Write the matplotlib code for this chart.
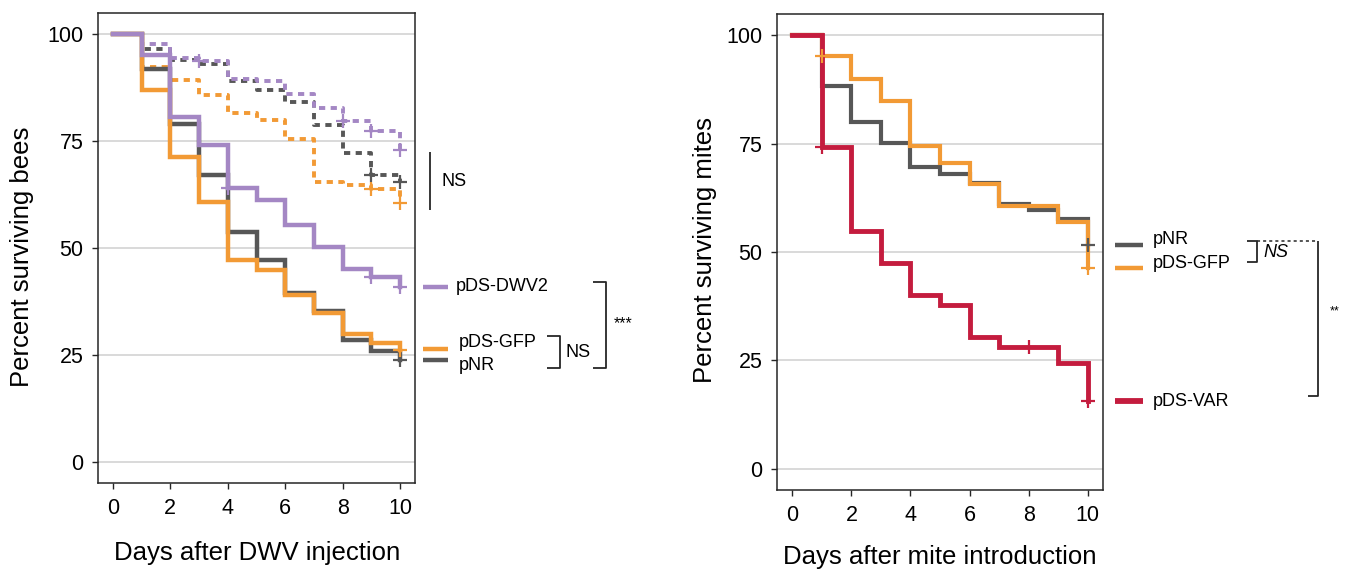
import numpy as np
import matplotlib.pyplot as plt

plt.rcParams['font.family'] = ['Liberation Sans', 'DejaVu Sans']

# ---- data ----
days = np.arange(0, 11)

# bees, DWV injection (solid = DWV injected, dashed = controls)
bee_dwv2 = [100, 95.1, 80.7, 74.1, 64.0, 61.2, 55.4, 50.3, 45.0, 43.3, 41.0]
bee_gfp = [100, 86.9, 71.3, 60.8, 47.2, 44.9, 39.0, 34.7, 29.8, 27.7, 26.2]
bee_nr = [100, 91.8, 78.9, 67.1, 53.8, 47.2, 39.4, 35.3, 28.5, 25.9, 23.8]
bee_dwv2_ctrl = [100, 97.6, 94.3, 93.8, 89.4, 88.9, 86.0, 82.6, 79.6, 77.3, 72.9]
bee_gfp_ctrl = [100, 92.4, 89.3, 85.8, 81.5, 79.9, 75.5, 65.5, 64.8, 63.8, 60.5]
bee_nr_ctrl = [100, 96.6, 94.0, 93.1, 89.0, 86.9, 84.0, 78.8, 72.2, 67.1, 65.5]

# censor marks (day indices)
cens_dwv2 = [4, 9, 10]
cens_gfp = [10]
cens_nr = [10]
cens_dwv2_ctrl = [3, 8, 9, 10]
cens_gfp_ctrl = [9, 10]
cens_nr_ctrl = [9, 10]

# mites
mite_nr = [100, 88.2, 80.0, 75.2, 69.6, 68.0, 65.9, 61.1, 59.8, 57.5, 51.7]
mite_gfp = [100, 95.1, 89.8, 84.8, 74.4, 70.6, 65.7, 60.5, 60.5, 56.9, 46.2]
mite_var = [100, 74.2, 54.8, 47.4, 40.1, 37.8, 30.3, 28.0, 28.0, 24.5, 15.6]
cens_mite_nr = [10]
cens_mite_gfp = [1, 10]
cens_mite_var = [1, 8, 10]

PURPLE = '#a487c4'
ORANGE = '#f29a35'
GREY = '#575757'
RED = '#c41c3e'
INK = '#262626'

W, H = 1351, 569
fig = plt.figure(figsize=(W / 100, H / 100), dpi=100)


def px_axes(l, t, r, b):
    return fig.add_axes([l / W, 1 - b / H, (r - l) / W, (b - t) / H])


def km(ax, y, cens, color, lw=3.2, dashed=False):
    ls = (0, (1.6, 1.4)) if dashed else '-'
    ax.step(days, y, where='post', color=color, lw=lw, linestyle=ls,
            solid_joinstyle='miter', zorder=3)
    y = np.asarray(y)
    ax.plot(days[cens], y[cens], '+', color=color, ms=10, mew=1.6,
            zorder=4, clip_on=False)


def style(ax):
    ax.set_xlim(-0.52, 10.52)
    ax.set_ylim(-4.9, 104.9)
    ax.set_xticks([0, 2, 4, 6, 8, 10])
    ax.set_yticks([0, 25, 50, 75, 100])
    ax.grid(axis='y', color='#cfcfcf', lw=1.1)
    ax.set_axisbelow(True)
    for s in ax.spines.values():
        s.set_color(INK)
        s.set_linewidth(1.1)
    ax.tick_params(direction='out', length=4.5, width=1.0, color=INK,
                   labelsize=15.5)
    ax.tick_params(axis='y', pad=6)
    ax.tick_params(axis='x', pad=6)


# ---- left panel: bees ----
ax1 = px_axes(98, 13, 415, 483)
style(ax1)
km(ax1, bee_nr_ctrl, cens_nr_ctrl, GREY, lw=2.8, dashed=True)
km(ax1, bee_gfp_ctrl, cens_gfp_ctrl, ORANGE, lw=2.8, dashed=True)
km(ax1, bee_dwv2_ctrl, cens_dwv2_ctrl, PURPLE, lw=2.8, dashed=True)
km(ax1, bee_nr, cens_nr, GREY)
km(ax1, bee_gfp, cens_gfp, ORANGE)
km(ax1, bee_dwv2, cens_dwv2, PURPLE)

fig.text(22 / W, 1 - 257 / H, 'Percent surviving bees', rotation=90,
         ha='center', va='center', fontsize=18.5)
fig.text(257 / W, 1 - 553 / H, 'Days after DWV injection',
         ha='center', va='center', fontsize=18.5)

# labels / significance, left
kw = dict(clip_on=False, solid_capstyle='butt')
for y, c in [(bee_dwv2[-1], PURPLE), (26.5, ORANGE), (23.9, GREY)]:
    ax1.plot([10.80, 11.67], [y, y], color=c, lw=3.2, **kw)
ax1.text(11.95, bee_dwv2[-1], 'pDS-DWV2', fontsize=13, va='center')
ax1.text(12.05, 27.9, 'pDS-GFP', fontsize=13, va='center')
ax1.text(12.05, 22.6, 'pNR', fontsize=13, va='center')
ax1.plot([11.05, 11.05], [72.5, 58.9], color=INK, lw=1.3, **kw)
ax1.text(11.45, 65.5, 'NS', fontsize=13, va='center')
ax1.plot([15.11, 15.57, 15.57, 15.11], [29.4, 29.4, 22.0, 22.0],
         color=INK, lw=1.3, **kw)
ax1.text(15.75, 25.6, 'NS', fontsize=13, va='center')
ax1.plot([16.73, 17.17, 17.17, 16.73], [42.1, 42.1, 22.0, 22.0],
         color=INK, lw=1.3, **kw)
ax1.text(17.45, 32.4, '***', fontsize=11.5, va='center')

# ---- right panel: mites ----
ax2 = px_axes(777, 14, 1103, 490)
style(ax2)
km(ax2, mite_nr, cens_mite_nr, GREY, lw=3.0)
km(ax2, mite_gfp, cens_mite_gfp, ORANGE, lw=3.0)
km(ax2, mite_var, cens_mite_var, RED, lw=3.5)

fig.text(705 / W, 1 - 250 / H, 'Percent surviving mites', rotation=90,
         ha='center', va='center', fontsize=18.5)
fig.text(940 / W, 1 - 557 / H, 'Days after mite introduction',
         ha='center', va='center', fontsize=18.5)

for y, c, lw in [(mite_nr[-1], GREY, 3.2), (mite_gfp[-1], ORANGE, 3.2),
                 (mite_var[-1], RED, 4.2)]:
    ax2.plot([10.94, 11.87], [y, y], color=c, lw=lw, **kw)
ax2.text(12.2, 52.8, 'pNR', fontsize=13, va='center')
ax2.text(12.2, 47.4, 'pDS-GFP', fontsize=13, va='center')
ax2.text(12.2, mite_var[-1], 'pDS-VAR', fontsize=13, va='center')
ax2.plot([15.40, 15.74, 15.74, 15.40], [52.6, 52.6, 47.6, 47.6],
         color=INK, lw=1.3, **kw)
ax2.text(15.95, 49.8, 'NS', fontsize=13, va='center', style='italic')
ax2.plot([15.74, 17.81], [52.6, 52.6], color=INK, lw=1.1,
         linestyle=(0, (2, 2)), **kw)
ax2.plot([17.81, 17.81, 17.47], [52.6, 16.8, 16.8], color=INK,
         lw=1.3, **kw)
ax2.text(18.2, 36.4, '**', fontsize=9, va='center')

fig.savefig('out.png', dpi=100)
